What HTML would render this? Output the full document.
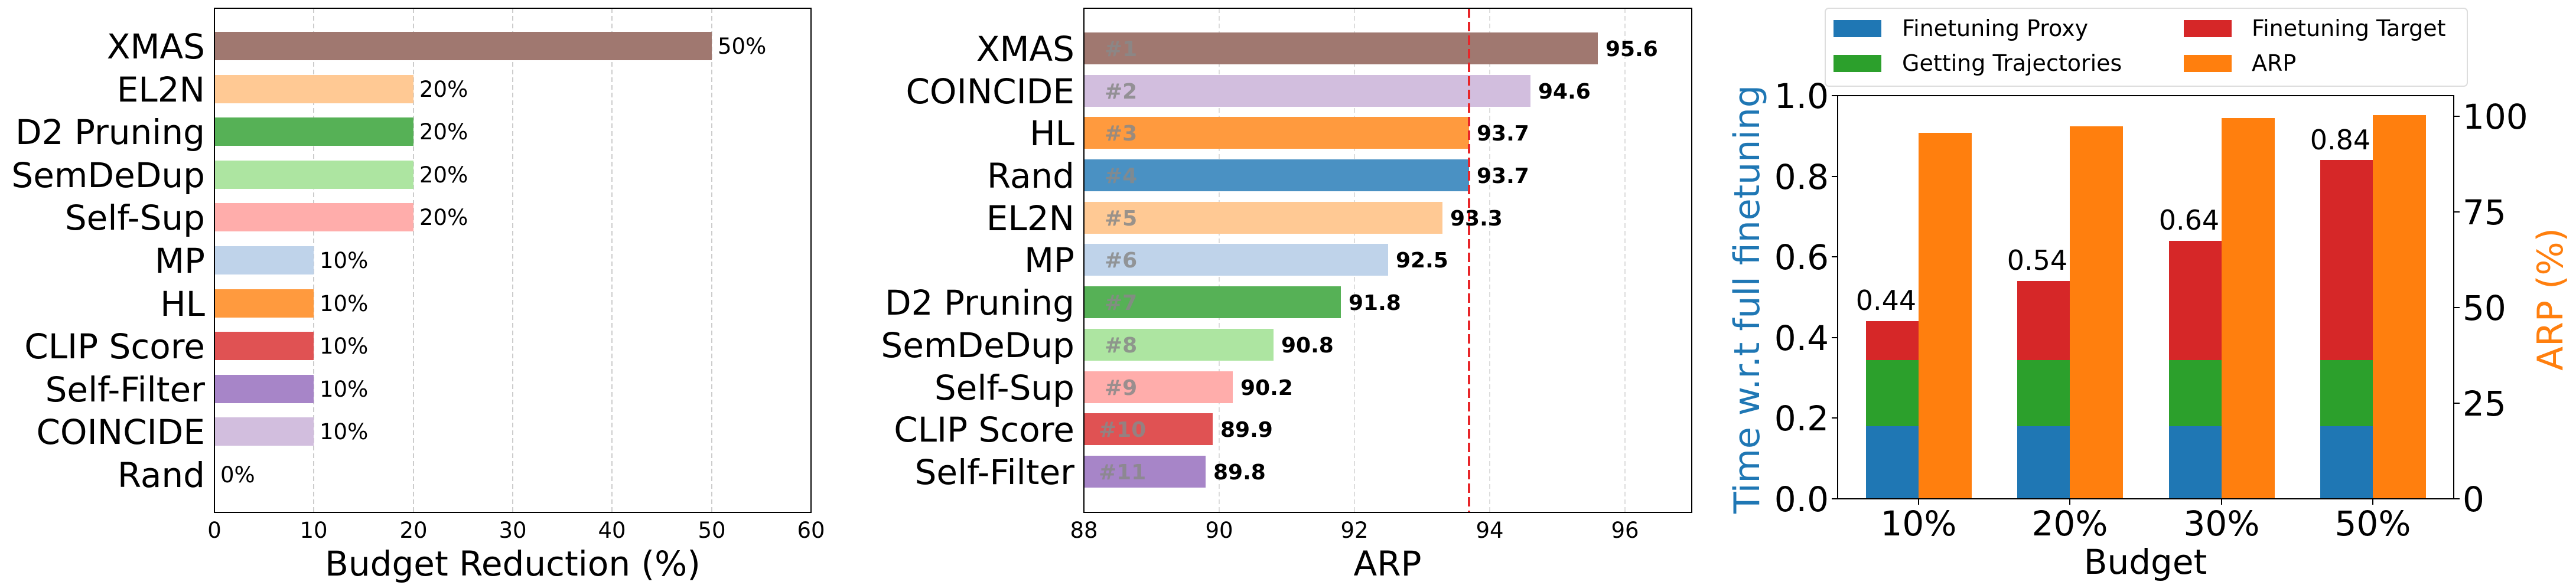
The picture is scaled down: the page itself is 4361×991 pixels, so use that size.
<!DOCTYPE html>
<html><head><meta charset="utf-8"><style>body{margin:0;background:#fff}svg{display:block}text{font-family:"DejaVu Sans","Liberation Sans",sans-serif}</style></head><body>
<svg width="4361" height="991" viewBox="0 0 4361 991" xmlns="http://www.w3.org/2000/svg">
<rect width="4361" height="991" fill="#fff"/>
<!-- Panel 1 -->
<g stroke="#ccc" stroke-width="2" stroke-dasharray="8,5">
<line x1="531" y1="14" x2="531" y2="868"/><line x1="700" y1="14" x2="700" y2="868"/><line x1="868" y1="14" x2="868" y2="868"/><line x1="1036" y1="14" x2="1036" y2="868"/><line x1="1205" y1="14" x2="1205" y2="868"/>
</g>
<g>
<rect x="363" y="54" width="842" height="48" fill="#a07870"/>
<rect x="363" y="127" width="337" height="48" fill="#ffc994"/>
<rect x="363" y="199" width="337" height="48" fill="#56b156"/>
<rect x="363" y="272" width="337" height="48" fill="#ade5a1"/>
<rect x="363" y="344" width="337" height="48" fill="#ffadab"/>
<rect x="363" y="417" width="168" height="48" fill="#bfd3ea"/>
<rect x="363" y="490" width="168" height="48" fill="#ff9a3e"/>
<rect x="363" y="562" width="168" height="48" fill="#e05253"/>
<rect x="363" y="635" width="168" height="48" fill="#a785c8"/>
<rect x="363" y="707" width="168" height="48" fill="#d2bede"/>
</g>
<g font-size="37" fill="#000">
<text x="1215" y="91">50%</text><text x="710" y="164">20%</text><text x="710" y="236">20%</text><text x="710" y="309">20%</text><text x="710" y="381">20%</text>
<text x="541" y="454">10%</text><text x="541" y="527">10%</text><text x="541" y="599">10%</text><text x="541" y="672">10%</text><text x="541" y="744">10%</text><text x="373" y="817">0%</text>
</g>
<g font-size="58" text-anchor="end" fill="#000">
<text x="347" y="99">XMAS</text><text x="347" y="172">EL2N</text><text x="347" y="244">D2 Pruning</text><text x="347" y="317">SemDeDup</text><text x="347" y="389">Self-Sup</text><text x="347" y="462">MP</text><text x="347" y="535">HL</text><text x="347" y="607">CLIP Score</text><text x="347" y="680">Self-Filter</text><text x="347" y="752">COINCIDE</text><text x="347" y="825">Rand</text>
</g>
<rect x="363" y="14" width="1010" height="854" fill="none" stroke="#000" stroke-width="2"/>
<g font-size="37" text-anchor="middle"><text x="363" y="911">0</text><text x="531" y="911">10</text><text x="700" y="911">20</text><text x="868" y="911">30</text><text x="1036" y="911">40</text><text x="1205" y="911">50</text><text x="1373" y="911">60</text></g>
<text x="868" y="975" font-size="58" text-anchor="middle">Budget Reduction (%)</text>
<!-- Panel 2 -->
<g stroke="#ddd" stroke-width="2" stroke-dasharray="8,5">
<line x1="2064" y1="14" x2="2064" y2="868"/><line x1="2293" y1="14" x2="2293" y2="868"/><line x1="2522" y1="14" x2="2522" y2="868"/><line x1="2751" y1="14" x2="2751" y2="868"/>
</g>
<g>
<rect x="1835" y="55" width="870" height="54" fill="#a07870"/>
<rect x="1835" y="127" width="756" height="54" fill="#d2bede"/>
<rect x="1835" y="198" width="652" height="54" fill="#ff9a3e"/>
<rect x="1835" y="270" width="652" height="54" fill="#4a91c3"/>
<rect x="1835" y="342" width="607" height="54" fill="#ffc994"/>
<rect x="1835" y="413" width="515" height="54" fill="#bfd3ea"/>
<rect x="1835" y="485" width="435" height="54" fill="#56b156"/>
<rect x="1835" y="557" width="321" height="54" fill="#ade5a1"/>
<rect x="1835" y="629" width="252" height="54" fill="#ffadab"/>
<rect x="1835" y="700" width="218" height="54" fill="#e05253"/>
<rect x="1835" y="772" width="206" height="54" fill="#a785c8"/>
</g>
<line x1="2487" y1="14" x2="2487" y2="868" stroke="#e8262a" stroke-width="4" stroke-dasharray="16,7"/>
<g font-size="36" font-weight="bold" fill="#000">
<text x="2718" y="95">95.6</text><text x="2604" y="167">94.6</text><text x="2500" y="238">93.7</text><text x="2500" y="310">93.7</text><text x="2455" y="382">93.3</text><text x="2363" y="453">92.5</text><text x="2283" y="525">91.8</text><text x="2169" y="597">90.8</text><text x="2100" y="669">90.2</text><text x="2066" y="740">89.9</text><text x="2054" y="812">89.8</text>
</g>
<g font-size="36" font-weight="bold" fill="#888" fill-opacity="0.85">
<text x="1870" y="95">#1</text><text x="1870" y="167">#2</text><text x="1870" y="238">#3</text><text x="1870" y="310">#4</text><text x="1870" y="382">#5</text><text x="1870" y="453">#6</text><text x="1870" y="525">#7</text><text x="1870" y="597">#8</text><text x="1870" y="669">#9</text><text x="1860" y="740">#10</text><text x="1860" y="812">#11</text>
</g>
<g font-size="58" text-anchor="end" fill="#000">
<text x="1819" y="103">XMAS</text><text x="1819" y="175">COINCIDE</text><text x="1819" y="246">HL</text><text x="1819" y="318">Rand</text><text x="1819" y="390">EL2N</text><text x="1819" y="461">MP</text><text x="1819" y="533">D2 Pruning</text><text x="1819" y="605">SemDeDup</text><text x="1819" y="677">Self-Sup</text><text x="1819" y="748">CLIP Score</text><text x="1819" y="820">Self-Filter</text>
</g>
<rect x="1835" y="14" width="1029" height="854" fill="none" stroke="#000" stroke-width="2"/>
<g font-size="37" text-anchor="middle"><text x="1835" y="911">88</text><text x="2064" y="911">90</text><text x="2293" y="911">92</text><text x="2522" y="911">94</text><text x="2751" y="911">96</text></g>
<text x="2349" y="975" font-size="58" text-anchor="middle">ARP</text>
<!-- Panel 3 -->
<g>
<rect x="3159" y="722" width="89" height="123" fill="#1f77b4"/><rect x="3159" y="610" width="89" height="112" fill="#2ca02c"/><rect x="3159" y="544" width="89" height="66" fill="#d62728"/>
<rect x="3415" y="722" width="89" height="123" fill="#1f77b4"/><rect x="3415" y="610" width="89" height="112" fill="#2ca02c"/><rect x="3415" y="476" width="89" height="134" fill="#d62728"/>
<rect x="3672" y="722" width="89" height="123" fill="#1f77b4"/><rect x="3672" y="610" width="89" height="112" fill="#2ca02c"/><rect x="3672" y="408" width="89" height="202" fill="#d62728"/>
<rect x="3928" y="722" width="89" height="123" fill="#1f77b4"/><rect x="3928" y="610" width="89" height="112" fill="#2ca02c"/><rect x="3928" y="271" width="89" height="339" fill="#d62728"/>
<rect x="3248" y="225" width="90" height="620" fill="#ff7f0e"/>
<rect x="3504" y="214" width="90" height="631" fill="#ff7f0e"/>
<rect x="3761" y="200" width="90" height="645" fill="#ff7f0e"/>
<rect x="4017" y="195" width="90" height="650" fill="#ff7f0e"/>
</g>
<g font-size="46" text-anchor="middle"><text x="3193" y="525">0.44</text><text x="3449" y="457">0.54</text><text x="3706" y="389">0.64</text><text x="3962" y="253">0.84</text></g>
<rect x="3111" y="162" width="1043" height="683" fill="none" stroke="#000" stroke-width="2"/>
<g stroke="#000" stroke-width="2">
<line x1="3101" y1="845" x2="3111" y2="845"/><line x1="3101" y1="708" x2="3111" y2="708"/><line x1="3101" y1="572" x2="3111" y2="572"/><line x1="3101" y1="435" x2="3111" y2="435"/><line x1="3101" y1="299" x2="3111" y2="299"/><line x1="3101" y1="162" x2="3111" y2="162"/>
<line x1="4154" y1="845" x2="4164" y2="845"/><line x1="4154" y1="683" x2="4164" y2="683"/><line x1="4154" y1="521" x2="4164" y2="521"/><line x1="4154" y1="359" x2="4164" y2="359"/><line x1="4154" y1="197" x2="4164" y2="197"/>
<line x1="3248" y1="845" x2="3248" y2="855"/><line x1="3504" y1="845" x2="3504" y2="855"/><line x1="3761" y1="845" x2="3761" y2="855"/><line x1="4017" y1="845" x2="4017" y2="855"/>
</g>
<g font-size="58" text-anchor="end"><text x="3096" y="866">0.0</text><text x="3096" y="729">0.2</text><text x="3096" y="593">0.4</text><text x="3096" y="456">0.6</text><text x="3096" y="320">0.8</text><text x="3096" y="183">1.0</text></g>
<g font-size="58"><text x="4169" y="866">0</text><text x="4169" y="704">25</text><text x="4169" y="542">50</text><text x="4169" y="380">75</text><text x="4169" y="218">100</text></g>
<g font-size="58" text-anchor="middle"><text x="3248" y="907">10%</text><text x="3504" y="907">20%</text><text x="3761" y="907">30%</text><text x="4017" y="907">50%</text></g>
<text x="3632" y="972" font-size="58" text-anchor="middle">Budget</text>
<text transform="translate(2978,507) rotate(-90)" font-size="60" text-anchor="middle" fill="#1f77b4">Time w.r.t full finetuning</text>
<text transform="translate(4338,507) rotate(-90)" font-size="60" text-anchor="middle" fill="#ff7f0e">ARP (%)</text>
<rect x="3090" y="14" width="1087" height="132" rx="6" fill="#fff" stroke="#ddd" stroke-width="2"/>
<rect x="3104" y="34" width="81" height="29" fill="#1f77b4"/><text x="3220" y="61" font-size="38">Finetuning Proxy</text>
<rect x="3104" y="93" width="81" height="29" fill="#2ca02c"/><text x="3220" y="120" font-size="38">Getting Trajectories</text>
<rect x="3697" y="34" width="81" height="29" fill="#d62728"/><text x="3812" y="61" font-size="38">Finetuning Target</text>
<rect x="3697" y="93" width="81" height="29" fill="#ff7f0e"/><text x="3812" y="120" font-size="38">ARP</text>
</svg>
</body></html>
